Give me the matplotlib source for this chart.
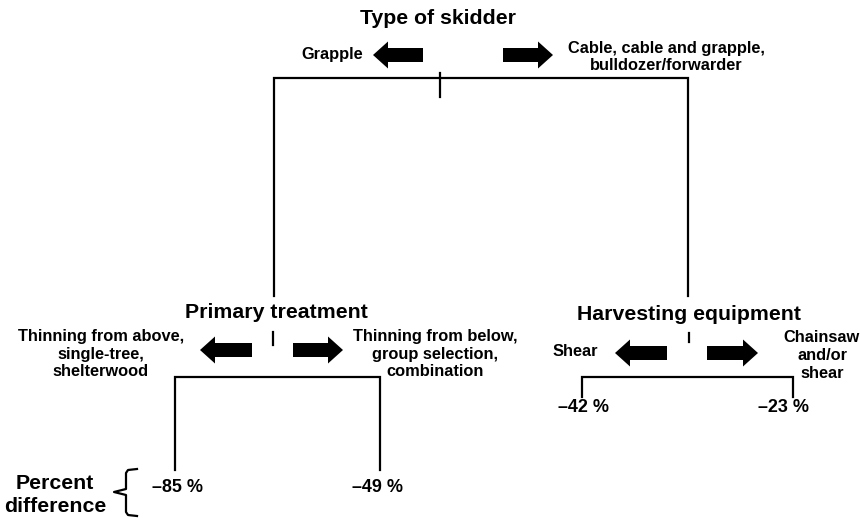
import matplotlib.pyplot as plt
from matplotlib.patches import FancyArrow

plt.rcParams["font.family"] = ["Liberation Sans", "DejaVu Sans"]
plt.rcParams["font.weight"] = "bold"

# ── Tree content ───────────────────────────────────────────────────────────
split_names = ["Type of skidder", "Primary treatment", "Harvesting equipment"]
left_branch = ["Grapple",
               "Thinning from above,\nsingle-tree,\nshelterwood",
               "Shear"]
right_branch = ["Cable, cable and grapple,\nbulldozer/forwarder",
                "Thinning from below,\ngroup selection,\ncombination",
                "Chainsaw\nand/or\nshear"]
leaf_values = [-85, -49, -42, -23]   # percent difference
legend_label = "Percent\ndifference"

# ── Layout (pixel coordinates) ────────────────────────────────────────────
nodes = [
    dict(tx=438, ty=18, tick=440, tick_y=(73, 97), bar_y=78, xl=274, xr=688, bot=296,
         arr_y=55, la=(423, 373), ra=(503, 553),
         lt=(332, 55), rt=(666, 57)),
    dict(tx=276, ty=313, tick=273, tick_y=(332, 345), bar_y=377, xl=175, xr=380, bot=470,
         arr_y=350, la=(252, 200), ra=(293, 343),
         lt=(101, 354), rt=(435, 354)),
    dict(tx=689, ty=315, tick=689, tick_y=(333, 342), bar_y=377, xl=582, xr=793, bot=397,
         arr_y=353, la=(667, 615), ra=(707, 758),
         lt=(575, 352), rt=(822, 355)),
]
leaf_pos = [(178, 488), (378, 488), (584, 407), (784, 407)]

fig = plt.figure(figsize=(8.6, 5.18), dpi=100)
ax = fig.add_axes([0, 0, 1, 1])
ax.set_xlim(0, 860)
ax.set_ylim(518, 0)
ax.axis("off")

lw = 1.6
for i, nd in enumerate(nodes):
    ax.text(nd["tx"], nd["ty"], split_names[i], ha="center", va="center",
            fontsize=15.3, fontweight="bold")
    # branch bracket
    ax.plot([nd["xl"], nd["xl"], nd["xr"], nd["xr"]],
            [nd["bot"], nd["bar_y"], nd["bar_y"], nd["bot"]],
            color="black", lw=lw, solid_joinstyle="miter")
    ax.plot([nd["tick"], nd["tick"]], nd["tick_y"], color="black", lw=lw)
    # arrows
    for x0, x1 in (nd["la"], nd["ra"]):
        ax.add_patch(FancyArrow(x0, nd["arr_y"], x1 - x0, 0, width=14,
                                head_width=27, head_length=15,
                                length_includes_head=True, color="black", lw=0))
    # branch labels
    x, y = nd["lt"]
    ax.text(x, y, left_branch[i], ha="center", va="center", fontsize=11.8,
            fontweight="bold", linespacing=1.25)
    x, y = nd["rt"]
    ax.text(x, y, right_branch[i], ha="center", va="center", fontsize=11.8,
            fontweight="bold", linespacing=1.25)

for v, (x, y) in zip(leaf_values, leaf_pos):
    ax.text(x, y, f"\u2013{abs(v)} %", ha="center", va="center",
            fontsize=13, fontweight="bold")

# legend for leaf values
ax.text(55, 495, legend_label, ha="center", va="center", fontsize=15.3,
        fontweight="bold", linespacing=1.3)
ax.plot([137, 128, 126, 126, 114, 126, 126, 128, 137],
        [469, 470, 473, 489, 492, 495, 512, 515, 516],
        color="black", lw=lw)

plt.savefig("out.png", dpi=100)
